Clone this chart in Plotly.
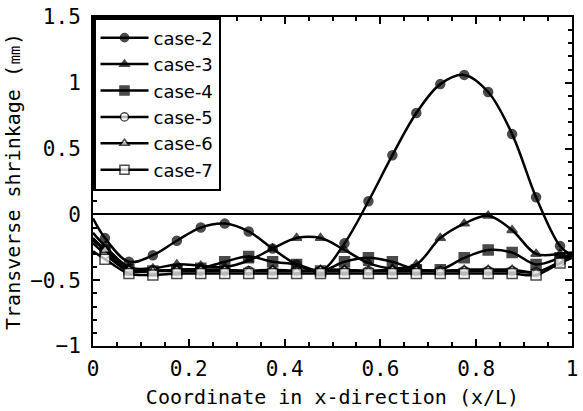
import plotly.graph_objects as go

x = [0, 0.025, 0.075, 0.125, 0.175, 0.225, 0.275, 0.325, 0.375, 0.425, 0.475,
     0.525, 0.575, 0.625, 0.675, 0.725, 0.775, 0.825, 0.875, 0.925, 0.975, 1]

case2 = [-0.03, -0.18, -0.36, -0.31, -0.20, -0.10, -0.07, -0.13, -0.26, -0.38, -0.43,
         -0.22, 0.10, 0.45, 0.77, 0.99, 1.06, 0.93, 0.61, 0.13, -0.24, -0.31]
case3 = [-0.14, -0.24, -0.40, -0.41, -0.38, -0.39, -0.40, -0.35, -0.26, -0.18, -0.18,
         -0.27, -0.37, -0.41, -0.38, -0.18, -0.07, -0.01, -0.12, -0.30, -0.30, -0.29]
case4 = [-0.20, -0.27, -0.42, -0.43, -0.42, -0.41, -0.36, -0.32, -0.36, -0.38, -0.43,
         -0.36, -0.33, -0.36, -0.42, -0.42, -0.33, -0.27, -0.29, -0.38, -0.33, -0.30]
case5 = [-0.22, -0.30, -0.43, -0.43, -0.43, -0.43, -0.43, -0.43, -0.43, -0.43, -0.43,
         -0.43, -0.43, -0.43, -0.43, -0.43, -0.43, -0.43, -0.43, -0.44, -0.36, -0.31]
case6 = [-0.18, -0.27, -0.42, -0.43, -0.42, -0.42, -0.42, -0.43, -0.42, -0.43, -0.42,
         -0.42, -0.43, -0.42, -0.42, -0.43, -0.42, -0.42, -0.42, -0.44, -0.36, -0.31]
case7 = [-0.28, -0.34, -0.45, -0.46, -0.45, -0.45, -0.45, -0.45, -0.45, -0.45, -0.45,
         -0.45, -0.45, -0.45, -0.45, -0.45, -0.45, -0.45, -0.45, -0.46, -0.37, -0.33]

names = ["case-2", "case-3", "case-4", "case-5", "case-6", "case-7"]
series = [case2, case3, case4, case5, case6, case7]
symbols = ["circle", "triangle-up", "square", "circle-open", "triangle-up-open", "square-open"]

fig = go.Figure()
for name, ys, sym in zip(names, series, symbols):
    is_open = "open" in sym
    base = sym.replace("-open", "")
    size = 10 if base == "square" else 9
    sizes = [0] + [size] * (len(x) - 2) + [0]
    fig.add_trace(go.Scatter(
        x=x, y=ys, name=name, mode="lines+markers",
        line=dict(color="black", width=2.5, shape="spline", smoothing=1.0),
        marker=dict(symbol=base, size=sizes,
                    color="white" if is_open else "black",
                    line=dict(color="black", width=1.5)),
    ))

axis_font = dict(family="DejaVu Sans Mono", size=20, color="black")
tick_font = dict(family="DejaVu Sans Mono", size=21, color="black")

fig.update_layout(
    width=583, height=411,
    margin=dict(l=93, r=5, t=12, b=65),
    paper_bgcolor="white", plot_bgcolor="white",
    showlegend=True,
    legend=dict(x=0, y=1, xanchor="left", yanchor="top",
                bgcolor="white", bordercolor="black", borderwidth=2.5,
                font=dict(family="DejaVu Sans", size=18, color="black"),
                tracegroupgap=0, itemwidth=48),
    xaxis=dict(range=[0, 1], dtick=0.2, tick0=0, ticks="inside", ticklen=7,
               tickwidth=1.5, tickcolor="black", showline=True, linecolor="black",
               linewidth=2, mirror="ticks", showgrid=False, zeroline=False,
               tickfont=tick_font, ticklabelstandoff=3,
               minor=dict(dtick=0.05, ticks="inside", ticklen=4, tickcolor="black", tickwidth=1.5),
               title=dict(text="Coordinate in x-direction (x/L)", font=axis_font, standoff=10)),
    yaxis=dict(range=[-1, 1.5], dtick=0.5, tick0=0, ticks="inside", ticklen=7,
               tickwidth=1.5, tickcolor="black", showline=True, linecolor="black",
               linewidth=2, mirror="ticks", showgrid=False,
               zeroline=True, zerolinecolor="black", zerolinewidth=1.5,
               tickfont=tick_font, ticklabelstandoff=6,
               minor=dict(dtick=0.1, ticks="inside", ticklen=4, tickcolor="black", tickwidth=1.5),
               title=dict(text="Transverse shrinkage (㎜)", font=axis_font, standoff=4)),
)

fig.write_html("out.html")
